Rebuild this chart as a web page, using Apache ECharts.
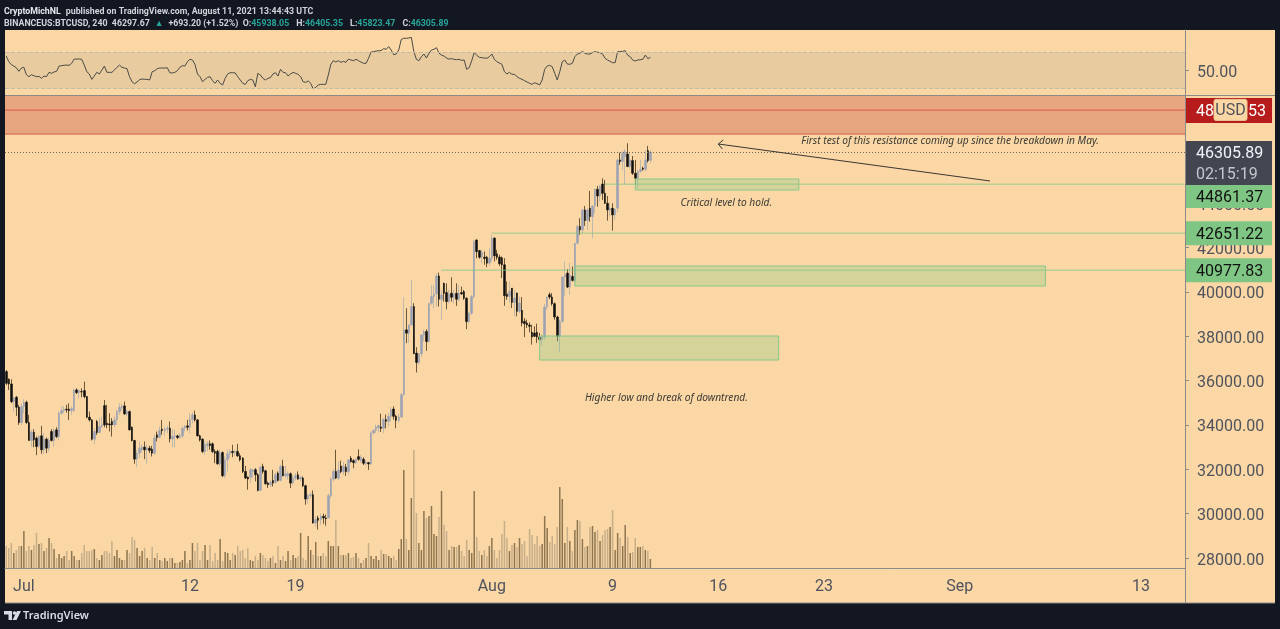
<!DOCTYPE html>
<html>
<head>
<meta charset="utf-8">
<title>BTCUSD</title>
<script src="https://cdn.jsdelivr.net/npm/echarts@6/dist/echarts.min.js"></script>
<style>
  html, body { margin: 0; padding: 0; background: #131722; }
  #chart { width: 1280px; height: 629px; }
</style>
</head>
<body>
<div id="chart"></div>
<script>
// candles, 4h
var opens = [
  36405,36060,35850,35055,35250,34800,34110,34830,35025,34110,
  33300,33675,33405,33060,33510,32880,33360,32955,33705,33300,
  33780,33480,34530,34650,34710,34710,34650,34650,35580,35460,
  35505,35550,35280,34350,34230,33360,34155,33660,33930,34875,
  34080,34050,34155,34005,34230,34605,34800,34860,34500,34605,
  33900,33300,32460,32730,32880,33000,32880,32955,32910,32730,
  33555,33435,33810,33750,33810,33855,33375,33480,33510,33435,
  33510,33855,33960,33900,34260,34455,34230,33510,33360,32805,
  33060,33150,33150,32805,32805,32250,32760,31710,32430,32700,
  32805,32760,32805,32610,32505,31905,31650,31650,31905,31980,
  31755,31050,32130,31935,31380,31305,31500,31410,31830,31500,
  32130,31710,31710,31800,31380,31605,31755,31560,31605,31260,
  30660,30810,30855,29580,29805,29730,29880,29805,29805,30810,
  31560,31905,31597,32152,31897,32092,31897,32497,32392,32302,
  32572,32392,32452,32272,32302,32242,33641,33761,33866,33911,
  33851,34241,34166,34391,34721,34391,34211,34361,35366,38291,
  38141,38516,39341,37241,36821,37211,38066,38216,37766,39491,
  39791,39911,40721,39671,40391,39971,39566,39941,39761,39941,
  39671,39971,40016,39716,38666,39041,39791,42345,41865,41600,
  41570,41570,41300,41525,42425,41720,41570,41540,41225,39905,
  39800,40175,39530,39950,39125,39170,38675,38600,38510,38180,
  38150,38180,37970,37850,37970,39320,39875,39770,39470,38870,
  38000,38675,40670,40850,40220,40700,40520,42200,42950,42800,
  43700,43220,43775,43400,43880,44630,44330,44870,44450,44000,
  43700,43775,43475,43780,45955,45880,46105,46225,45655,45925,
  45355,45130,45430,45580,45535,46375,45938
];
var highs = [
  36480,36105,36060,35280,35310,34905,34980,35160,35100,34455,
  33780,33810,33480,33555,33960,33630,33435,33405,33810,33855,
  33900,34605,34830,34860,34905,34980,34830,35655,35655,35610,
  35655,35955,35310,34605,34260,33855,34230,34305,34380,35130,
  34905,34530,34305,34380,34680,34980,34950,35055,34680,34650,
  33930,33330,32880,33255,33105,33255,33105,33060,33060,33555,
  33705,33930,34230,33900,33960,34155,33810,33780,33555,33630,
  33930,34005,34230,34530,34560,34650,34260,33555,33405,33255,
  33255,33300,33210,32910,32880,32880,32805,32580,32880,32910,
  33105,32880,33150,32730,32550,32160,31680,32055,32010,32055,
  31830,32160,32250,31980,31455,31530,31980,31860,31905,32205,
  32430,32160,31905,31860,31755,31830,31905,31710,31680,31305,
  30900,30960,31050,29880,29910,30000,30000,29955,30900,31650,
  32010,32880,32347,32392,32347,32242,32452,32602,32452,32497,
  32902,32647,32542,32422,32332,33716,33791,34016,34016,34511,
  34316,34466,34541,34811,34841,34466,34511,35441,39761,39266,
  38516,40541,39491,37511,37241,38066,38291,38321,39491,40316,
  40316,40841,40871,40091,40421,40391,40091,40661,40091,40391,
  40316,40241,40091,39761,39116,39866,42345,42375,41900,41900,
  41825,41630,41975,42575,42470,41900,41675,41600,41525,40475,
  40475,40175,40100,39980,39800,39770,38825,38750,38630,38525,
  38450,38570,38150,38075,39470,39800,39980,39950,39530,38930,
  38750,40700,41375,41030,41300,41150,42200,43025,43325,43730,
  43880,43775,44555,43900,44675,44780,44825,45125,45050,44330,
  44000,44000,43775,46000,46285,46375,46435,46705,46255,46135,
  45955,45505,45955,45655,46375,46585,46405
];
var lows = [
  35805,35580,34980,34605,34410,34005,34005,34530,34050,33300,
  33000,33000,32640,32955,32700,32700,32730,32805,33255,33030,
  33405,33300,34455,34530,34560,34230,34455,34605,35400,35205,
  35250,35205,34305,34155,33300,33150,33555,33630,33855,33900,
  33855,33705,33480,33900,34005,34455,34650,34455,34380,33750,
  33255,32250,32100,32505,32760,32460,32250,32730,32580,32655,
  33255,33405,33555,33510,33630,33210,33000,33000,33360,33390,
  33405,33705,33750,33630,34080,34155,33480,33255,32730,32655,
  32805,32880,32730,32280,32205,32130,31650,31605,31905,32505,
  32550,32610,32550,32355,31830,31560,31080,31380,31605,31455,
  31005,31005,31800,31305,31155,31200,31230,31350,31455,31455,
  31680,31605,31530,31155,31305,31500,31530,31455,31200,30405,
  30450,30705,29550,29400,29280,29505,29550,29460,29805,30705,
  31455,31560,31522,31822,31747,31702,31747,32302,32047,32242,
  32392,32302,32197,32152,31972,32200,33566,33641,33671,33686,
  33641,33851,33941,34166,34241,33851,34121,34316,35321,37691,
  37691,38471,37211,36371,36716,37061,37766,37346,37721,39416,
  39266,39341,39341,38741,39566,39221,39491,39566,39491,39371,
  39566,39866,39641,38321,38591,38966,39700,41520,41500,41300,
  41225,41120,41180,41375,41375,41450,41180,40625,39380,39650,
  39530,39275,38900,38900,39050,38450,37970,38375,38180,37625,
  37970,37700,37820,37580,37850,39200,39680,39380,38750,37775,
  37280,38600,39830,40175,39875,40475,40400,42125,42575,42650,
  42980,42800,43175,42425,43550,43850,44075,44150,43970,43220,
  43400,42770,43250,43600,45730,45505,44830,45655,45580,45280,
  44830,44680,45385,45475,45430,45835,45823
];
var closes = [
  35880,35850,35055,35205,34800,34110,34830,35025,34110,33300,
  33675,33330,33030,33480,32880,33360,32955,33300,33300,33750,
  33480,34530,34650,34710,34680,34650,34740,35580,35460,35550,
  35490,35280,34350,34230,33360,33705,33660,33930,34005,34005,
  34005,34005,34005,34230,34605,34800,34830,34500,34605,33780,
  33300,32460,32730,32955,33000,32880,32955,32850,32730,33405,
  33435,33750,33750,33810,33855,33375,33480,33510,33435,33510,
  33855,33930,33900,34260,34455,34230,33510,33330,32805,33105,
  33150,33075,32805,32730,32250,32730,31710,32430,32700,32805,
  32760,32805,32610,32430,31905,31605,31560,31980,31980,31755,
  31050,32100,31905,31350,31305,31410,31380,31755,31500,32130,
  31710,31800,31800,31380,31605,31710,31560,31635,31260,30660,
  30810,30855,29580,29730,29700,29880,29805,29775,30810,31560,
  31905,31605,31972,31897,32122,31897,32422,32347,32302,32452,
  32452,32542,32272,32332,32242,33641,33761,33911,33971,33851,
  34241,34166,34391,34691,34391,34211,34361,35366,38291,38141,
  38516,39341,37211,36821,37211,38066,38216,37766,39491,39791,
  39911,40721,39671,39866,39941,39566,39911,39761,39911,39671,
  39941,39911,39716,38666,39041,39791,42270,41820,41565,41780,
  41510,41300,41525,42425,41630,41570,41270,41225,39830,39800,
  40025,39530,39725,39125,39500,38600,38570,38510,38450,37970,
  38000,37970,37850,37970,39320,39770,39770,39470,38870,38000,
  38675,40670,40775,40220,40775,40520,42200,42950,42800,43700,
  43220,43700,43400,43880,44630,44330,44780,44450,44000,43700,
  43775,43475,43730,45955,45880,46255,46330,45655,45955,45355,
  45130,45430,45535,45535,45955,45925,46306
];
var volumes = [
  220,200,250,150,180,220,220,370,170,220,
  180,230,350,240,250,170,200,300,250,190,
  100,140,100,120,170,80,170,120,80,80,
  150,230,170,170,180,190,100,80,130,170,
  170,150,270,120,180,100,80,80,180,150,
  310,280,200,120,170,200,100,80,210,100,
  150,80,70,100,70,100,100,50,50,60,
  80,170,50,80,250,170,250,80,170,230,
  80,230,70,150,80,290,70,160,150,80,
  150,130,220,170,180,100,200,80,70,120,
  80,150,130,100,70,100,120,50,220,80,
  120,70,170,80,130,100,120,350,100,80,
  320,180,130,260,120,120,150,120,270,220,
  220,480,220,130,130,130,150,100,110,150,
  100,50,80,100,250,120,90,120,80,180,
  140,140,120,100,120,80,190,290,980,290,
  180,700,1180,550,250,180,570,500,520,620,
  340,320,510,770,430,370,180,220,210,210,
  230,170,120,280,180,150,770,310,170,130,
  180,120,220,300,180,100,180,340,470,300,
  170,230,250,210,300,240,270,120,390,330,
  240,320,220,240,520,400,260,320,240,410,
  810,690,250,410,270,170,380,480,470,290,
  210,220,410,420,360,380,270,330,380,390,
  410,580,180,350,300,220,430,310,150,160,
  300,210,210,220,180,170,90
];
var rsiValues = [
  65.9,59.7,56.4,54.9,53.1,49.1,52.7,53.5,45.4,43.2,
  45.4,44.3,43.2,43.6,41.4,44,43.2,48,46.9,48.4,
  49.1,54.9,55.3,55.7,56,55.7,57.9,62.6,62.6,62.6,
  62.3,56,48.7,46.2,40.3,44,48,46.2,50.5,54.9,
  48,48,48,50.5,53.5,56,53.5,52.7,52,43.2,
  37.7,35.5,37.4,39.9,40.7,40.3,40.3,39.6,48.7,49.8,
  52,52.7,52.7,52.7,53.1,47.6,47.3,48,49.8,53.5,
  55.3,54.9,59.7,62.3,61.5,56.8,46.2,43.2,37.7,40.3,
  42.5,43.2,38.8,35.9,39.6,35.9,34.1,41.4,46.2,47.6,
  47.6,47.3,43.2,39.6,35.9,34.8,38.8,40.3,39.6,32.2,
  46.9,45.1,41.4,39.6,41.4,42.1,46.2,47.6,44,51.3,
  48,47.6,44,46.2,48,46.9,45.8,43.2,37.7,37,
  38.5,35.9,29.7,31.5,34.1,34.8,34.8,34.8,45.1,56.8,
  60.8,59.3,60.8,59,60.1,59,62.6,61.5,60.8,62.3,
  60.8,59.3,57.9,57.9,63.4,70.3,70.7,71.4,71.8,71.8,
  74,73.3,76.2,72.5,67.4,68.1,72.5,84.2,85.4,85.4,
  85.7,86.4,70.7,62.3,60.8,65.2,68.1,63.7,68.9,72.5,
  73.3,75.1,68.9,67,65.9,63.7,62.6,63,62.3,61.9,
  62.3,61.2,61.5,51.3,53.1,60.8,69.6,66.7,64.5,64.1,
  63.7,63.4,65.2,68.1,62.3,59.7,58.2,56.8,48.7,46.2,
  48,45.8,45.8,43.2,41.4,40.3,38.8,37.4,35.9,34.8,
  36.6,35.5,34.1,39.6,51.3,54.9,55.7,54.2,46.9,39.6,
  48.7,59.7,61.5,57.1,56.8,57.9,65.2,68.1,68.9,71.1,
  68.9,68.1,68.1,69.6,70.7,70,69.6,68.1,63.4,61.5,
  60.1,58.6,58.6,70.7,70.7,71.1,71.8,66.7,65.2,61.5,
  60.4,61.5,61.9,62.3,67,63,64.5
];

// axis ticks
var slotCount = 469;
var xTickCats = ['07-01 00', '07-12 00', '07-19 00', '08-01 00', '08-09 00', '08-16 00', '08-23 00', '09-01 00', '09-13 00'];
var xTickLabels = ['Jul', '12', '19', 'Aug', '9', '16', '23', 'Sep', '13'];
var yTicks = [28000, 30000, 32000, 34000, 36000, 38000, 40000, 42000, 44000];
var rsiTicks = [50];

// drawn zones: slot index and price
var zoneStarts = [0, 250, 226, 212];
var zoneEnds = [468, 315, 413, 307];
var zoneTops = [48840, 45095, 41171, 38014];
var zoneBottoms = [47125, 44599, 40269, 36931];
var zoneFills = ['#e8a680', 'rgba(129,199,132,0.3)', 'rgba(129,199,132,0.3)', 'rgba(129,199,132,0.3)'];
var zoneEdges = ['none', '#86c88a', '#86c88a', '#86c88a'];

// horizontal levels
var levelStarts = [0, 0, 238, 193, 173];
var levelPrices = [48200, 47125, 44861.37, 42651.22, 40977.83];
var levelColors = ['#d9685a', '#dd7a60', 'rgba(129,199,132,0.55)', 'rgba(129,199,132,0.55)', 'rgba(129,199,132,0.55)'];
var lastPrice = 46305.89;

// notes on the chart
var noteTexts = ['First test of this resistance coming up since the breakdown in May.', 'Critical level to hold.', 'Higher low and break of downtrend.'];
var noteSlots = [316, 268, 230];
var notePrices = [46805, 43995, 35210];
var arrowFrom = [391, 45005];
var arrowTo = [283, 46674];

// price tags on the scale
var tagCenters = [48190, 45812, 44306, 42651.22, 40977.83];
var tagHeights = [25, 44, 23, 24, 24];
var tagFills = ['#b71c1c', '#434651', '#7fc684', '#7fc684', '#7fc684'];
var tagTexts = ['', '46305.89', '44861.37', '42651.22', '40977.83'];
var tagColors = ['#fff', '#f0f3fa', '#111', '#111', '#111'];

var UP_BODY = '#9aa1b4', DOWN_BODY = '#0e0e0e';
var UP_WICK = '#bfb8ad', DOWN_WICK = '#6b5636';
// volume colours run the other way round on this chart
var UP_VOL = '#8c7550', DOWN_VOL = '#c6ae8a';
var AXIS_TEXT = '#50535e', AXIS_LINE = '#8a8a88', FONT = 'Roboto';
var CREAM = '#fad7a4';

var categories = [];
for (var s = 0; s < slotCount; s++) {
  categories.push(new Date(Date.UTC(2021, 5, 29, 20) + s * 4 * 3600 * 1000).toISOString().slice(5, 13).replace('T', ' '));
}

var chart = echarts.init(document.getElementById('chart'));

var isTick = function (index, value) {
  return xTickCats.indexOf(value) >= 0;
};

// zones, levels, arrow and notes
var renderZone = function (params, api) {
  var i = params.dataIndex;
  var box = params.coordSys;
  var x0 = zoneStarts[i] === 0 ? box.x : api.coord([zoneStarts[i], zoneTops[i]])[0];
  var x1 = zoneEnds[i] === slotCount - 1 ? box.x + box.width : api.coord([zoneEnds[i], zoneTops[i]])[0];
  var y0 = api.coord([zoneStarts[i], zoneTops[i]])[1];
  var y1 = api.coord([zoneStarts[i], zoneBottoms[i]])[1];
  return {
    type: 'rect',
    shape: { x: x0, y: y0, width: x1 - x0, height: y1 - y0 },
    style: { fill: zoneFills[i], stroke: zoneEdges[i], lineWidth: 1 }
  };
};

var renderLevel = function (params, api) {
  var i = params.dataIndex;
  var box = params.coordSys;
  var p = api.coord([levelStarts[i], levelPrices[i]]);
  var x0 = levelStarts[i] === 0 ? box.x : p[0];
  return {
    type: 'line',
    shape: { x1: x0, y1: p[1], x2: box.x + box.width, y2: p[1] },
    style: { stroke: levelColors[i], lineWidth: 1.4 }
  };
};

var renderNote = function (params, api) {
  var i = params.dataIndex;
  var p = api.coord([noteSlots[i], notePrices[i]]);
  return {
    type: 'text',
    x: p[0],
    y: p[1],
    style: {
      text: noteTexts[i],
      fill: '#3c3a36',
      font: 'italic 10.2px "Noto Sans"',
      textAlign: 'left',
      textVerticalAlign: 'middle'
    }
  };
};

var renderArrow = function (params, api) {
  var a = api.coord(arrowFrom);
  var b = api.coord(arrowTo);
  return {
    type: 'group',
    children: [
      { type: 'line', shape: { x1: a[0], y1: a[1], x2: b[0], y2: b[1] }, style: { stroke: '#3a3733', lineWidth: 1 } },
      { type: 'polyline', shape: { points: [[b[0] + 5, b[1] - 4], b, [b[0] + 4, b[1] + 5]] }, style: { stroke: '#3a3733', fill: 'none', lineWidth: 1 } }
    ]
  };
};

var renderTag = function (params, api) {
  var i = params.dataIndex;
  var box = params.coordSys;
  var c = api.coord([0, tagCenters[i]])[1];
  var x = box.x + box.width + 1;
  var h = tagHeights[i];
  var kids = [{ type: 'rect', shape: { x: x, y: c - h / 2, width: 86, height: h }, style: { fill: tagFills[i] } }];
  var tagFont = '16px ' + FONT;
  if (i === 0) {
    // the USD button sits on top of the price
    kids.push({ type: 'text', x: x + 10, y: c + 2, style: { text: '48', fill: '#fff', font: tagFont, textVerticalAlign: 'middle' } });
    kids.push({ type: 'text', x: x + 62, y: c + 2, style: { text: '53', fill: '#fff', font: tagFont, textVerticalAlign: 'middle' } });
    kids.push({ type: 'rect', shape: { x: x + 28, y: c - 11, width: 33, height: 21, r: 2 }, style: { fill: CREAM, stroke: '#f0c996', lineWidth: 1 } });
    kids.push({ type: 'text', x: x + 44.5, y: c + 1, style: { text: 'USD', fill: AXIS_TEXT, font: tagFont, textAlign: 'center', textVerticalAlign: 'middle' } });
  } else if (i === 1) {
    kids.push({ type: 'text', x: x + 10, y: c - 9, style: { text: tagTexts[i], fill: tagColors[i], font: tagFont, textVerticalAlign: 'middle' } });
    kids.push({ type: 'text', x: x + 10, y: c + 12, style: { text: '02:15:19', fill: '#c3c6ce', font: tagFont, textVerticalAlign: 'middle' } });
  } else {
    kids.push({ type: 'text', x: x + 10, y: c + 2, style: { text: tagTexts[i], fill: tagColors[i], font: tagFont, textVerticalAlign: 'middle' } });
  }
  return { type: 'group', children: kids };
};

var candleRows = opens.map(function (o, i) {
  return [o, closes[i], lows[i], highs[i]];
});
var bodyRows = opens.map(function (o, i) {
  return [o, closes[i], Math.min(o, closes[i]), Math.max(o, closes[i])];
});
var volumeRows = volumes.map(function (v, i) {
  return { value: v, itemStyle: { color: closes[i] >= opens[i] ? UP_VOL : DOWN_VOL } };
});

var headValue = { color: '#26a69a', fontSize: 8.8, fontFamily: 'Roboto' };
var headText = { color: '#d1d4dc', fontSize: 8.8, fontFamily: 'Roboto' };

// rich text so the scale labels can sit a little below their ticks
var scaleRich = { p: { color: AXIS_TEXT, fontSize: 16, fontFamily: FONT, padding: [5, 0, 0, 0] } };
var scaleFormat = function (v) {
  return '{p|' + v.toFixed(2) + '}';
};

var option = {
  animation: false,
  backgroundColor: '#131722',
  title: [{
    left: 4, top: 3, padding: 0,
    text: '{b|CryptoMichNL} {a|published on TradingView.com, August 11, 2021 13:44:43 UTC}',
    textStyle: { rich: { a: headText, b: { color: '#e6e8ee', fontSize: 8.8, fontWeight: 'bold', fontFamily: 'Roboto' } } }
  }, {
    left: 4, top: 15, padding: 0,
    text: '{a|BINANCEUS:BTCUSD, 240  46297.67} {v|▲} {a|+693.20 (+1.52%)  O:}{v|45938.05} {a| H:}{v|46405.35} {a| L:}{v|45823.47} {a| C:}{v|46305.89}',
    textStyle: { rich: { a: headText, v: headValue } }
  }],
  graphic: [
    { type: 'rect', z: -10, shape: { x: 5, y: 30, width: 1270, height: 573 }, style: { fill: CREAM } },
    { type: 'line', z: 5, shape: { x1: 5, y1: 95.5, x2: 1275, y2: 95.5 }, style: { stroke: AXIS_LINE, lineWidth: 1 } },
    { type: 'line', z: 5, shape: { x1: 1185.5, y1: 568, x2: 1185.5, y2: 603 }, style: { stroke: AXIS_LINE, lineWidth: 1 } },
    { type: 'line', z: 5, shape: { x1: 5, y1: 603, x2: 1275, y2: 603 }, style: { stroke: AXIS_LINE, lineWidth: 1 } },
    // TradingView mark
    { type: 'polygon', shape: { points: [[4, 611], [12, 611], [12, 620], [8.5, 620], [8.5, 614.5], [4, 614.5]] }, style: { fill: '#d8dce6' } },
    { type: 'circle', shape: { cx: 14.5, cy: 613, r: 1.8 }, style: { fill: '#d8dce6' } },
    { type: 'polygon', shape: { points: [[17, 611], [21, 611], [16.5, 620], [12.5, 620]] }, style: { fill: '#d8dce6' } },
    { type: 'text', x: 23, y: 616, style: { text: 'TradingView', fill: '#d8dce6', font: '600 11px "Noto Sans"', textVerticalAlign: 'middle' } }
  ],
  grid: [
    { left: 5, right: 95, top: 95, height: 473 },
    { left: 5, right: 95, top: 30, height: 65 }
  ],
  xAxis: [{
    type: 'category',
    gridIndex: 0,
    data: categories,
    boundaryGap: true,
    axisLine: { lineStyle: { color: AXIS_LINE } },
    axisTick: { interval: isTick, alignWithLabel: true, length: 4, lineStyle: { color: AXIS_LINE } },
    axisLabel: {
      interval: isTick,
      color: AXIS_TEXT,
      fontSize: 16,
      fontFamily: FONT,
      margin: 11,
      formatter: function (value) {
        return xTickLabels[xTickCats.indexOf(value)];
      }
    },
    splitLine: { show: false }
  }, {
    type: 'category',
    gridIndex: 1,
    data: categories,
    show: false
  }],
  yAxis: [{
    type: 'value',
    gridIndex: 0,
    position: 'right',
    min: 27549,
    max: 48884,
    axisLine: { show: true, lineStyle: { color: AXIS_LINE } },
    axisTick: { show: true, length: 4, customValues: yTicks, lineStyle: { color: AXIS_LINE } },
    axisLabel: {
      customValues: yTicks,
      margin: 12,
      rich: scaleRich,
      formatter: scaleFormat
    },
    splitLine: { show: false }
  }, {
    type: 'value',
    gridIndex: 0,
    min: 0,
    max: 4730,
    show: false
  }, {
    type: 'value',
    gridIndex: 1,
    position: 'right',
    min: 23.1,
    max: 94.5,
    axisLine: { show: true, lineStyle: { color: AXIS_LINE } },
    axisTick: { show: true, length: 4, customValues: rsiTicks, lineStyle: { color: AXIS_LINE } },
    axisLabel: {
      customValues: rsiTicks,
      margin: 12,
      rich: scaleRich,
      formatter: scaleFormat
    },
    splitLine: { show: false }
  }],
  series: [{
    name: 'Volume',
    type: 'bar',
    xAxisIndex: 0,
    yAxisIndex: 1,
    barWidth: 1.5,
    data: volumeRows,
    silent: true
  }, {
    name: 'Wicks',
    type: 'candlestick',
    xAxisIndex: 0,
    yAxisIndex: 0,
    barWidth: 1,
    data: candleRows,
    itemStyle: { color: UP_WICK, color0: DOWN_WICK, borderColor: UP_WICK, borderColor0: DOWN_WICK, borderWidth: 1 },
    silent: true
  }, {
    name: 'Bodies',
    type: 'candlestick',
    xAxisIndex: 0,
    yAxisIndex: 0,
    barWidth: 2,
    data: bodyRows,
    itemStyle: { color: UP_BODY, color0: DOWN_BODY, borderColor: UP_BODY, borderColor0: DOWN_BODY, borderWidth: 0.5 },
    silent: true
  }, {
    name: 'RSI',
    type: 'line',
    xAxisIndex: 1,
    yAxisIndex: 2,
    data: rsiValues,
    showSymbol: false,
    lineStyle: { color: '#4b4a45', width: 1 },
    markArea: {
      silent: true,
      itemStyle: { color: '#e8cca0' },
      data: [[{ yAxis: 70 }, { yAxis: 30 }]]
    },
    markLine: {
      silent: true,
      symbol: 'none',
      label: { show: false },
      lineStyle: { color: '#c4baa6', type: 'dashed', width: 1 },
      data: [{ yAxis: 70 }, { yAxis: 30 }]
    },
    silent: true
  }, {
    name: 'Zones',
    type: 'custom',
    xAxisIndex: 0,
    yAxisIndex: 0,
    z: 3,
    silent: true,
    renderItem: renderZone,
    data: zoneStarts.map(function (v, i) { return [v, zoneTops[i]]; })
  }, {
    name: 'Levels',
    type: 'custom',
    xAxisIndex: 0,
    yAxisIndex: 0,
    z: 3,
    silent: true,
    renderItem: renderLevel,
    data: levelStarts.map(function (v, i) { return [v, levelPrices[i]]; })
  }, {
    name: 'Last',
    type: 'line',
    xAxisIndex: 0,
    yAxisIndex: 0,
    data: [],
    markLine: {
      silent: true,
      symbol: 'none',
      label: { show: false },
      lineStyle: { color: '#6a675f', type: [1, 2], width: 1 },
      data: [{ yAxis: lastPrice }]
    }
  }, {
    name: 'Notes',
    type: 'custom',
    xAxisIndex: 0,
    yAxisIndex: 0,
    z: 6,
    silent: true,
    renderItem: renderNote,
    data: noteSlots.map(function (v, i) { return [v, notePrices[i]]; })
  }, {
    name: 'Arrow',
    type: 'custom',
    xAxisIndex: 0,
    yAxisIndex: 0,
    z: 6,
    silent: true,
    renderItem: renderArrow,
    data: [arrowFrom]
  }, {
    name: 'Tags',
    type: 'custom',
    xAxisIndex: 0,
    yAxisIndex: 0,
    z: 10,
    silent: true,
    renderItem: renderTag,
    data: tagCenters.map(function (v) { return [0, v]; })
  }]
};

chart.setOption(option);
</script>
</body>
</html>
